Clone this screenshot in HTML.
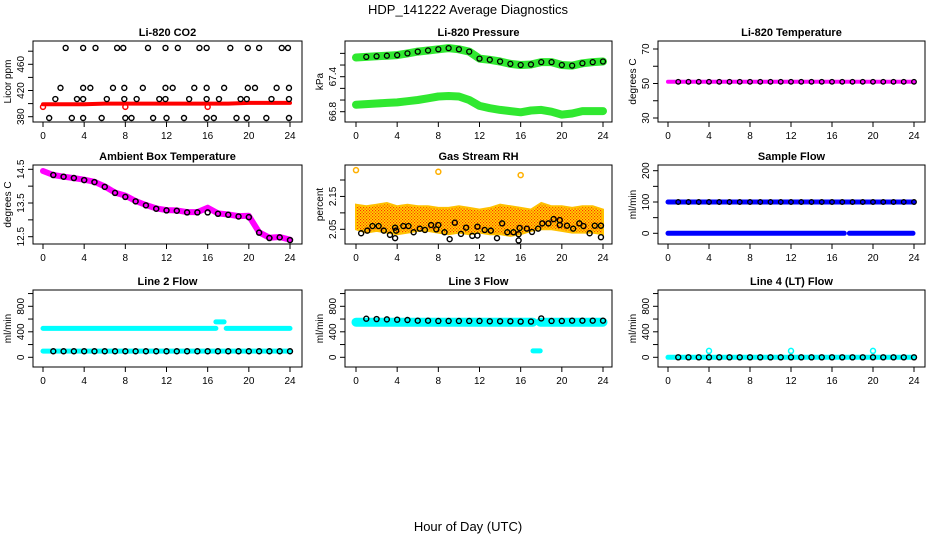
<!DOCTYPE html>
<html><head><meta charset="utf-8">
<style>
body{margin:0;background:#fff;}
svg{display:block;font-family:"Liberation Sans",sans-serif;}
</style></head>
<body>
<svg id="chart" width="936" height="540" viewBox="0 0 936 540" xmlns="http://www.w3.org/2000/svg">
<defs>
<pattern id="rhpat" width="3" height="3" patternUnits="userSpaceOnUse">
<rect width="3" height="3" fill="#ffd800"/><rect width="1.2" height="1.2" fill="#ff3000"/><rect x="1.5" y="1.5" width="1.2" height="1.2" fill="#ff3000"/>
</pattern>
</defs>
<rect width="936" height="540" fill="#fff"/>
<text x="468" y="14" font-size="13" text-anchor="middle">HDP_141222  Average Diagnostics</text>
<text x="468" y="531" font-size="13" text-anchor="middle">Hour of Day (UTC)</text>
</svg>
<script>
const hoursHourly = [0,1,2,3,4,5,6,7,8,9,10,11,12,13,14,15,16,17,18,19,20,21,22,23,24];
const xTickLabels = ["0","4","8","12","16","20","24"];

const co2BandHours = [0,2,4,6,8,10,12,14,16,18,20,22,24];
const co2BandValues = [399,399,399,400,400,400,400,400,400,400,401,401,401];
const co2RedCircleHours = [0,8,16];
const co2RedCircleValues = [395,395,395];
const co2BlackHours = [2.2,3.9,5.1,7.2,7.8,10.2,11.9,13.1,15.2,15.9,18.2,19.9,21.0,23.2,23.8,
 1.7,3.9,4.6,6.8,7.9,9.7,11.9,12.6,14.7,15.9,17.6,19.9,20.6,22.7,23.9,
 1.2,3.3,3.9,6.2,7.9,9.1,11.3,11.9,14.2,15.9,17.1,19.2,19.8,22.2,23.9,
 0.6,2.8,3.9,5.7,8.0,8.6,10.7,12.0,13.7,15.9,16.6,18.8,19.8,21.7,23.9];
const co2BlackValues = [485,485,485,485,485,485,485,485,485,485,485,485,485,485,485,
 424,424,424,424,424,424,424,424,424,424,424,424,424,424,424,
 407,407,407,407,407,407,407,407,407,407,407,407,407,407,407,
 378,378,378,378,378,378,378,378,378,378,378,378,378,378,378];

const pressUpper = [67.73,67.74,67.75,67.76,67.77,67.80,67.83,67.85,67.87,67.89,67.87,67.83,67.71,67.69,67.66,67.62,67.60,67.61,67.65,67.65,67.60,67.59,67.63,67.65,67.66];
const pressLower = [66.92,66.93,66.94,66.95,66.96,66.98,67.00,67.03,67.06,67.07,67.06,67.00,66.90,66.86,66.83,66.81,66.79,66.82,66.83,66.80,66.75,66.77,66.81,66.81,66.81];

const tempBand = [51,51,51,51,51,51,51,51,51,51,51,51,51,51,51,51,51,51,51,51,51,51,51,51,51];
const tempBlack = [51,51,51,51,51,51,51,51,51,51,51,51,51,51,51,51,51,51,51,51,51,51,51,51,51];

const ambientBand = [14.45,14.33,14.28,14.24,14.19,14.13,13.99,13.81,13.72,13.56,13.44,13.34,13.29,13.28,13.23,13.23,13.36,13.19,13.16,13.11,13.12,12.63,12.47,12.49,12.41];
const ambientBlack = [14.42,14.33,14.28,14.24,14.18,14.12,13.98,13.80,13.68,13.55,13.43,13.33,13.28,13.27,13.22,13.22,13.22,13.18,13.15,13.10,13.08,12.62,12.46,12.48,12.40];

const rhUpper = [2.125,2.12,2.125,2.13,2.12,2.125,2.12,2.12,2.115,2.115,2.12,2.115,2.11,2.115,2.125,2.12,2.115,2.11,2.13,2.12,2.12,2.115,2.12,2.12,2.11];
const rhLower = [2.05,2.04,2.045,2.04,2.035,2.04,2.045,2.045,2.04,2.035,2.04,2.035,2.04,2.035,2.035,2.03,2.035,2.045,2.05,2.05,2.045,2.04,2.04,2.04,2.035];
const rhOutlierHours = [0,8,16];
const rhOutlierValues = [2.23,2.225,2.215];
const rhBlackHours = [0.5,1.1,1.6,2.2,2.7,3.3,3.8,3.8,3.9,4.6,5.1,5.6,6.2,6.7,7.3,7.8,8.0,8.6,9.1,9.6,10.2,10.7,11.3,11.8,11.8,12.5,13.1,13.7,14.2,14.7,15.3,15.8,15.8,15.9,16.6,17.1,17.7,18.1,18.7,19.2,19.8,19.8,20.5,21.1,21.7,22.1,22.7,23.2,23.8,23.8];
const rhBlackValues = [2.038,2.046,2.06,2.06,2.046,2.033,2.023,2.055,2.046,2.06,2.06,2.041,2.052,2.048,2.063,2.05,2.063,2.041,2.02,2.07,2.036,2.055,2.03,2.058,2.031,2.048,2.046,2.023,2.068,2.041,2.041,2.035,2.016,2.054,2.052,2.042,2.052,2.068,2.068,2.081,2.078,2.063,2.061,2.052,2.068,2.06,2.038,2.061,2.061,2.026];

const sampleHighHours = [0,24];
const sampleHighValues = [100,100];
const sampleLowHours = [0,17.2,null,17.7,23.9];
const sampleLowValues = [0,0,null,0,0];
const sampleBlack = [100,100,100,100,100,100,100,100,100,100,100,100,100,100,100,100,100,100,100,100,100,100,100,100,100];

const line2UpperHours = [0,16.8,null,17.8,24];
const line2UpperValues = [453,453,null,453,453];
const line2BumpHours = [16.8,17.6];
const line2BumpValues = [556,556];
const line2LowerHours = [0,24];
const line2LowerValues = [98,98];
const line2Black = [95,95,95,95,95,95,95,95,95,95,95,95,95,95,95,95,95,95,95,95,95,95,95,95,95];

const line3BandHours = [0,17.2,null,17.9,24];
const line3BandValues = [550,550,null,550,550];
const line3DropHours = [17.2,17.9];
const line3DropValues = [100,100];
const line3Black = [610,605,600,595,590,585,575,575,570,570,570,570,570,565,565,565,560,560,610,570,570,575,575,575,575];

const line4BandHours = [0,24];
const line4BandValues = [0,0];
const line4Black = [0,0,0,0,0,0,0,0,0,0,0,0,0,0,0,0,0,0,0,0,0,0,0,0,0];
const line4SpikeHours = [4,12,20];
const line4SpikeValues = [100,100,100];

const NS = "http://www.w3.org/2000/svg";
const svg = document.getElementById("chart");
const colBoxL = [33,345,658], colBoxR = [302,612,925], colX0 = [43,356,668], colX24 = [290,603,914];
const rowBoxT = [41,165,290], rowBoxB = [122,244,367];

function mk(tag, attrs, parent){
  const e = document.createElementNS(NS, tag);
  for (const k in attrs) e.setAttribute(k, attrs[k]);
  (parent||svg).appendChild(e);
  return e;
}

function panel(name, col, row, title, ylab, v1, y1, v2, y2, ticks, labels){
  const g = mk("g", {});
  
  
  const L = colBoxL[col], R = colBoxR[col], T = rowBoxT[row], B = rowBoxB[row];
  const sx = h => colX0[col] + (colX24[col]-colX0[col]) * h / 24;
  const sy = v => y1 + (y2-y1) * (v - v1) / (v2 - v1);
  const t = mk("text", {x:(L+R)/2, y:T-5, "font-size":11, "font-weight":"bold", "text-anchor":"middle"}, g);
  t.textContent = title;
  
  
  const yl = mk("text", {x:0, y:0, "font-size":10, "text-anchor":"middle", transform:`translate(${L-22},${(T+B)/2}) rotate(-90)`}, g);
  yl.textContent = ylab;
  
  
  const xa = mk("g", {}, g);
  
  
  for (let i=0;i<xTickLabels.length;i++){
    const h = +xTickLabels[i];
    mk("line", {x1:sx(h), x2:sx(h), y1:B, y2:B+5, stroke:"#000"}, xa);
    const tl = mk("text", {x:sx(h), y:B+17, "font-size":10, "text-anchor":"middle"}, xa);
    tl.textContent = xTickLabels[i];
  }
  const ya = mk("g", {}, g);
  
  
  for (const tv of ticks){
    mk("line", {x1:L, x2:L-5, y1:sy(tv), y2:sy(tv), stroke:"#000"}, ya);
  }
  for (const lv of labels){
    const tl = mk("text", {x:0, y:0, "font-size":10, "text-anchor":"middle", transform:`translate(${L-9},${sy(+lv)}) rotate(-90)`}, ya);
    tl.textContent = lv;
  }
  const data = mk("g", {}, g);
  
  
  const box = mk("rect", {x:L, y:T, width:R-L, height:B-T, fill:"none", stroke:"#000"}, g);
  
  
  return {sx, sy, g:data};
}

function band(p, hours, values, color, width, nm){
  let d = "", start = true;
  for (let i=0;i<hours.length;i++){
    if (hours[i]===null || values[i]===null){ start = true; continue; }
    d += (start ? "M" : "L") + p.sx(hours[i]).toFixed(1) + "," + p.sy(values[i]).toFixed(1);
    start = false;
  }
  const e = mk("path", {d, fill:"none", stroke:color, "stroke-width":width, "stroke-linecap":"round", "stroke-linejoin":"round"}, p.g);
  
  
  return e;
}
function area(p, hours, up, lo, fill, nm){
  let d = "";
  for (let i=0;i<hours.length;i++) d += (i? "L":"M") + p.sx(hours[i]).toFixed(1) + "," + p.sy(up[i]).toFixed(1);
  for (let i=hours.length-1;i>=0;i--) d += "L" + p.sx(hours[i]).toFixed(1) + "," + p.sy(lo[i]).toFixed(1);
  const e = mk("path", {d: d+"Z", fill, stroke:"#ffc000", "stroke-width":2}, p.g);
  
  
}
function pts(p, hours, values, color, r, sw, nm){
  for (let i=0;i<hours.length;i++){
    const c = mk("circle", {cx:p.sx(hours[i]), cy:p.sy(values[i]), r, fill:"none", stroke:color, "stroke-width":sw}, p.g);
    
    
  }
}

let p = panel("co2", 0, 0, "Li-820 CO2", "Licor ppm", 380, 116.7, 460, 64.3, [380,400,420,440,460,480], ["380","420","460"]);
band(p, co2BandHours, co2BandValues, "#ff0000", 4, "co2-band");
pts(p, co2RedCircleHours, co2RedCircleValues, "#ff0000", 2.5, 1.5, "co2-red-point");
pts(p, co2BlackHours, co2BlackValues, "#000", 2.5, 1.4, "co2-black-point");

p = panel("pressure", 1, 0, "Li-820 Pressure", "kPa", 66.8, 111.7, 67.4, 76.7, [66.8,67.0,67.2,67.4,67.6,67.8], ["66.8","67.4"]);
band(p, hoursHourly, pressUpper, "#30e830", 8, "pressure-upper-band");
band(p, hoursHourly, pressLower, "#30e830", 8, "pressure-lower-band");
pts(p, hoursHourly.slice(1), pressUpper.slice(1), "#000", 2.5, 1.3, "pressure-black-point");

p = panel("li820-temp", 2, 0, "Li-820 Temperature", "degrees C", 30, 118, 70, 49, [30,40,50,60,70], ["30","50","70"]);
band(p, hoursHourly, tempBand, "#ff00ff", 4, "temp-band");
pts(p, hoursHourly.slice(1), tempBlack.slice(1), "#000", 2.3, 1.3, "temp-black-point");

p = panel("ambient", 0, 1, "Ambient Box Temperature", "degrees C", 14.5, 169.3, 12.5, 236.7, [12.5,13.0,13.5,14.0,14.5], ["12.5","13.5","14.5"]);
band(p, hoursHourly, ambientBand, "#ff00ff", 6, "ambient-band");
pts(p, hoursHourly.slice(1), ambientBlack.slice(1), "#000", 2.5, 1.5, "ambient-black-point");

p = panel("rh", 1, 1, "Gas Stream RH", "percent", 2.05, 229.3, 2.20, 180, [2.05,2.10,2.15,2.20], ["2.05","2.15"]);
area(p, hoursHourly, rhUpper, rhLower, "url(#rhpat)", "rh-band");
pts(p, rhOutlierHours, rhOutlierValues, "#ffb000", 2.5, 1.5, "rh-outlier-point");
pts(p, rhBlackHours, rhBlackValues, "#000", 2.5, 1.4, "rh-black-point");

p = panel("sample-flow", 2, 1, "Sample Flow", "ml/min", 0, 233.3, 200, 170.7, [0,50,100,150,200], ["0","100","200"]);
band(p, sampleHighHours, sampleHighValues, "#0000ff", 5, "sample-high-band");
band(p, sampleLowHours, sampleLowValues, "#0000ff", 5, "sample-low-band");
pts(p, hoursHourly.slice(1), sampleBlack.slice(1), "#000", 2.3, 1.3, "sample-black-point");

p = panel("line2-flow", 0, 2, "Line 2 Flow", "ml/min", 0, 357.3, 800, 306.3, [0,200,400,600,800,1000], ["0","400","800"]);
band(p, line2UpperHours, line2UpperValues, "#00ffff", 5, "line2-upper-band");
band(p, line2BumpHours, line2BumpValues, "#00ffff", 5, "line2-bump-band");
band(p, line2LowerHours, line2LowerValues, "#00ffff", 5, "line2-lower-band");
pts(p, hoursHourly.slice(1), line2Black.slice(1), "#000", 2.5, 1.4, "line2-black-point");

p = panel("line3-flow", 1, 2, "Line 3 Flow", "ml/min", 0, 357.3, 800, 306.3, [0,200,400,600,800,1000], ["0","400","800"]);
band(p, line3BandHours, line3BandValues, "#00ffff", 9, "line3-band");
band(p, line3DropHours, line3DropValues, "#00ffff", 5, "line3-drop-band");
pts(p, hoursHourly.slice(1), line3Black.slice(1), "#000", 2.5, 1.4, "line3-black-point");

p = panel("line4-flow", 2, 2, "Line 4 (LT) Flow", "ml/min", 0, 357.3, 800, 306.3, [0,200,400,600,800,1000], ["0","400","800"]);
band(p, line4BandHours, line4BandValues, "#00ffff", 5, "line4-band");
pts(p, line4SpikeHours, line4SpikeValues, "#00ffff", 2.5, 1.5, "line4-spike-point");
pts(p, hoursHourly.slice(1), line4Black.slice(1), "#000", 2.5, 1.4, "line4-black-point");
</script>
</body></html>
